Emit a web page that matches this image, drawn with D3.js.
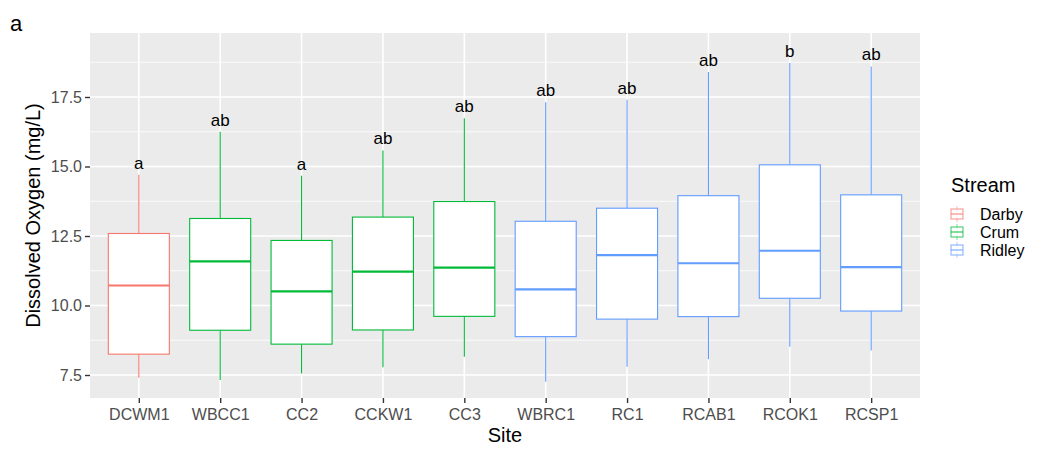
<!DOCTYPE html>
<html><head><meta charset="utf-8">
<script src="https://cdn.jsdelivr.net/npm/d3@7"></script>
<style>body{margin:0;background:#fff;} text{font-family:"Liberation Sans",Arial,sans-serif;}</style>
</head><body>
<svg id="chart" width="1046" height="458"></svg>
<script>
const sites = ["DCWM1","WBCC1","CC2","CCKW1","CC3","WBRC1","RC1","RCAB1","RCOK1","RCSP1"];
const streams = ["Darby","Crum","Crum","Crum","Crum","Ridley","Ridley","Ridley","Ridley","Ridley"];
const whiskerLow = [7.40,7.32,7.55,7.78,8.16,7.26,7.80,8.07,8.52,8.38];
const q1 = [8.25,9.11,8.61,9.12,9.61,8.88,9.51,9.60,10.26,9.80];
const median = [10.72,11.59,10.51,11.22,11.36,10.58,11.81,11.52,11.97,11.38];
const q3 = [12.59,13.13,12.34,13.18,13.74,13.03,13.50,13.95,15.06,13.98];
const whiskerHigh = [14.70,16.25,14.67,15.58,16.74,17.31,17.40,18.40,18.72,18.60];
const letters = ["a","ab","a","ab","ab","ab","ab","ab","b","ab"];
const streamNames = ["Darby","Crum","Ridley"];
const streamColors = ["#F8766D","#00BA38","#619CFF"];
const yTicks = [7.5,10,12.5,15,17.5];
const yMinor = [8.75,11.25,13.75,16.25,18.75];

const svg = d3.select("#chart");
const L=90, R=920, T=33, B=398;
const x = d3.scalePoint().domain(sites).range([L,R]).padding(0.6);
const step = x.step();
const y = d3.scaleLinear().domain([7.5,17.5]).range([375,97]);
const color = d3.scaleOrdinal().domain(streamNames).range(streamColors);

svg.append("rect").attr("x",L).attr("y",T).attr("width",R-L).attr("height",B-T).attr("fill","#EBEBEB");
const g = svg.append("g");
g.selectAll(".minor").data(yMinor).join("line").attr("x1",L).attr("x2",R)
  .attr("y1",d=>y(d)).attr("y2",d=>y(d)).attr("stroke","#fff").attr("stroke-width",0.8);
g.selectAll(".major").data(yTicks).join("line").attr("x1",L).attr("x2",R)
  .attr("y1",d=>y(d)).attr("y2",d=>y(d)).attr("stroke","#fff").attr("stroke-width",1.6);
g.selectAll(".vmajor").data(sites).join("line").attr("y1",T).attr("y2",B)
  .attr("x1",d=>x(d)).attr("x2",d=>x(d)).attr("stroke","#fff").attr("stroke-width",1.6);

const bw = step*0.75;
const boxes = svg.append("g").selectAll("g").data(sites).join("g");
boxes.append("line").attr("x1",d=>x(d)).attr("x2",d=>x(d))
  .attr("y1",(d,i)=>y(whiskerHigh[i])).attr("y2",(d,i)=>y(q3[i]))
  .attr("stroke",(d,i)=>color(streams[i])).attr("stroke-width",1.1);
boxes.append("line").attr("x1",d=>x(d)).attr("x2",d=>x(d))
  .attr("y1",(d,i)=>y(q1[i])).attr("y2",(d,i)=>y(whiskerLow[i]))
  .attr("stroke",(d,i)=>color(streams[i])).attr("stroke-width",1.1);
boxes.append("rect").attr("x",d=>x(d)-bw/2).attr("width",bw)
  .attr("y",(d,i)=>y(q3[i])).attr("height",(d,i)=>y(q1[i])-y(q3[i]))
  .attr("fill","#fff").attr("stroke",(d,i)=>color(streams[i])).attr("stroke-width",1.1);
boxes.append("line").attr("x1",d=>x(d)-bw/2).attr("x2",d=>x(d)+bw/2)
  .attr("y1",(d,i)=>y(median[i])).attr("y2",(d,i)=>y(median[i]))
  .attr("stroke",(d,i)=>color(streams[i])).attr("stroke-width",2.2);
boxes.append("text").attr("x",d=>x(d)).attr("y",(d,i)=>y(whiskerHigh[i])-6)
  .attr("text-anchor","middle").attr("font-size",17).attr("fill","#000").text((d,i)=>letters[i]);

// axes
const yAxis = svg.append("g").attr("transform",`translate(${L},0)`)
  .call(d3.axisLeft(y).tickValues(yTicks).tickFormat(d3.format(".1f")).tickSize(5).tickPadding(3));
yAxis.select(".domain").remove();
yAxis.selectAll("line").attr("stroke","#333").attr("stroke-width",1.4);
yAxis.selectAll("text").attr("font-size",16).attr("fill","#4D4D4D");
const xAxis = svg.append("g").attr("transform",`translate(0,${B})`)
  .call(d3.axisBottom(x).tickSize(5).tickPadding(6));
xAxis.select(".domain").remove();
xAxis.selectAll("line").attr("stroke","#333").attr("stroke-width",1.4);
xAxis.selectAll("text").attr("font-size",16).attr("fill","#4D4D4D");

svg.append("text").attr("x",(L+R)/2).attr("y",442).attr("text-anchor","middle")
  .attr("font-size",20).attr("fill","#000").text("Site");
svg.append("text").attr("transform",`translate(40,${(T+B)/2}) rotate(-90)`).attr("text-anchor","middle")
  .attr("font-size",20).attr("fill","#000").text("Dissolved Oxygen (mg/L)");
svg.append("text").attr("x",10).attr("y",31).attr("font-size",22).attr("fill","#000").text("a");

// legend
const lg = svg.append("g").attr("transform","translate(949,0)");
lg.append("text").attr("x",2).attr("y",192).attr("font-size",20).attr("fill","#000").text("Stream");
const items = lg.selectAll(".it").data(streamNames).join("g")
  .attr("transform",(d,i)=>`translate(0,${214+i*18})`);
items.append("line").attr("x1",8).attr("x2",8).attr("y1",-8).attr("y2",8)
  .attr("stroke",d=>color(d)).attr("stroke-width",0.8).attr("opacity",0.6);
items.append("rect").attr("x",2).attr("y",-5).attr("width",12).attr("height",10)
  .attr("fill","#fff").attr("stroke",d=>color(d)).attr("stroke-width",1).attr("opacity",0.8);
items.append("line").attr("x1",2).attr("x2",14).attr("y1",0).attr("y2",0)
  .attr("stroke",d=>color(d)).attr("stroke-width",1.2).attr("opacity",0.8);
items.append("text").attr("x",31).attr("y",6).attr("font-size",16).attr("fill","#000").text(d=>d);
</script>
</body></html>
